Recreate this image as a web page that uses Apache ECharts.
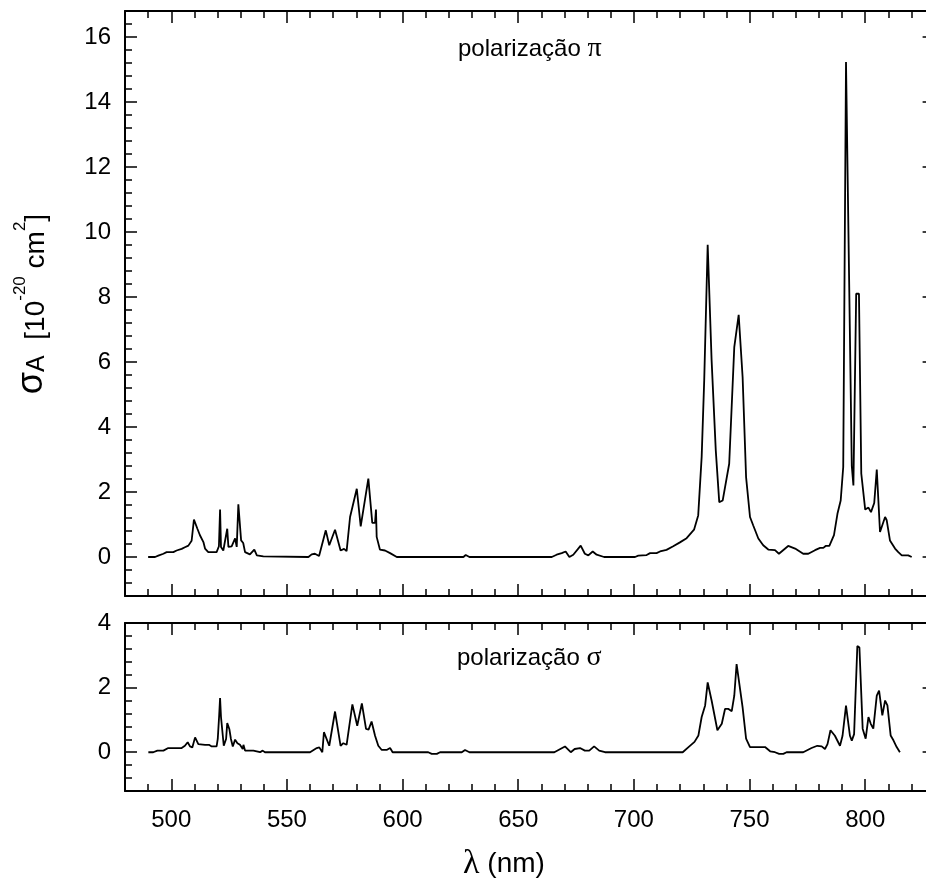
<!DOCTYPE html>
<html>
<head>
<meta charset="utf-8">
<script src="https://cdn.jsdelivr.net/npm/echarts@6/dist/echarts.min.js"></script>
<style>
html,body{margin:0;padding:0;background:#fff;}
#chart{width:926px;height:883px;}
</style>
</head>
<body>
<div id="chart"></div>
<script>
// ---- data ----
const piWavelength = [490,493,494.4,496.6,498,500.9,502.3,504.5,505.9,507.4,508.8,509.8,511.3,512.4,513.9,514.6,516,519.6,520.6,521.1,521.5,522.5,524.2,524.7,526.1,527.6,528.3,529,529.7,530.2,531.1,531.9,534,535.9,537,539.8,540.5,
559.3,560.7,562.1,563.9,566.8,568.3,570.8,573.2,574.7,575.8,577.3,580.2,581.9,585.2,586.9,588.1,588.5,588.8,590.2,592.4,594.6,597.5,
626.3,627.3,628.9,664.5,666.6,668.8,670.5,672.1,673.8,677,678.8,680.3,682.2,683.9,687.1,
700.5,701.9,705.5,707,709.8,711.3,714.1,717,719.9,722.8,726,727.8,729.3,730.4,731.9,733.6,735.4,736.9,738.4,741.2,743.4,745.3,747,748.5,750.2,751.6,753.8,755.9,758.1,761,762.7,766.7,769.7,773.2,775.4,778.3,780.5,781.9,782.9,784.5,786.5,788,789.4,790.5,791.7,794.2,794.9,796.1,797.3,798.3,800,801.4,802.5,803.9,805,806.4,808.6,809.3,810.7,812.9,814.3,815.8,818.6,820.1];
const piValues = [0,0,0.04,0.1,0.15,0.15,0.2,0.25,0.3,0.35,0.5,1.15,0.87,0.67,0.46,0.26,0.15,0.15,0.33,1.46,0.31,0.2,0.87,0.31,0.33,0.57,0.31,1.62,1.58,0.51,0.43,0.15,0.08,0.23,0.05,0.02,0,
0,0.08,0.1,0.03,0.82,0.36,0.84,0.2,0.25,0.18,1.23,2.1,0.94,2.41,1.05,1.05,1.46,0.62,0.23,0.2,0.12,0,
0,0.06,0,0,0.07,0.12,0.17,0,0.07,0.35,0.1,0.05,0.17,0.07,0,
0,0.04,0.06,0.12,0.12,0.17,0.22,0.33,0.45,0.58,0.84,1.28,3.08,5.44,9.61,6.05,3.28,1.69,1.74,2.87,6.46,7.45,5.54,2.46,1.23,0.97,0.57,0.36,0.23,0.21,0.1,0.34,0.26,0.1,0.1,0.21,0.28,0.28,0.34,0.34,0.67,1.33,1.74,2.77,15.23,2.8,2.2,8.1,8.1,2.57,1.46,1.52,1.38,1.66,2.69,0.77,1.23,1.13,0.51,0.26,0.15,0.05,0.05,0];

const sigmaWavelength = [490.1,492.2,494,496.6,498.7,504.5,505.9,507.1,508.1,509.1,510.3,511.7,514.6,515.3,516.3,517.5,519.6,520.1,520.7,521.1,521.5,522.1,522.7,523.7,524.2,525.1,525.8,526.6,527.6,528.6,529.7,530.9,531.2,531.9,535.5,536.3,538.4,539.5,540.5,
560,562.9,564,565.3,566,568.3,570.8,573.2,574.4,575.8,578.3,580.4,581.1,582.4,584.2,585.3,586.6,588.1,589.5,591,593.1,594.6,595.7,
611.1,612.6,614.8,616.2,625.6,627,628.9,665.6,670.2,672.7,674.4,676.7,678.8,680.7,682.8,685,687.5,
721.1,723.6,726.2,727.9,729.3,730.8,731.9,733.6,736.1,738,739.4,740.9,742.3,743.4,744.4,747,748.5,750.2,756.7,758.9,761,762.8,764.6,766,
773.2,776.8,779.3,781.2,782.6,783.7,785,786.9,789.1,790.2,791.7,793.4,794.2,795.2,796.6,797.5,798.9,800.2,801.4,802.4,803.5,805,806,807.4,808.6,809.6,811,812.2,813.6,815];
const sigmaValues = [0,0,0.05,0.05,0.13,0.13,0.2,0.31,0.18,0.15,0.46,0.25,0.23,0.18,0.23,0.18,0.18,0.41,1.13,1.68,1.09,1.11,0.2,0.41,0.9,0.72,0.41,0.18,0.39,0.28,0.23,0.1,0.23,0.05,0.05,0,0,0.05,0,
0,0.13,0.15,0,0.62,0.2,1.26,0.2,0.28,0.23,1.48,0.82,0.8,1.51,0.72,0.7,0.95,0.51,0.2,0.07,0.07,0.13,0,
0,-0.05,-0.05,0,0,0.07,0,0,0.18,0,0.1,0.13,0.05,0.05,0.18,0.05,0,
0,0.16,0.32,0.52,1.09,1.45,2.16,1.6,0.68,0.88,1.34,1.34,1.27,1.75,2.73,1.39,0.42,0.16,0.16,0.03,0,-0.05,-0.05,0,
0,0.13,0.2,0.18,0.1,0.25,0.68,0.51,0.2,0.51,1.44,0.51,0.36,0.56,3.29,3.24,0.73,0.42,1.09,0.88,0.73,1.75,1.91,1.14,1.6,1.45,0.52,0.37,0.16,0];

const xTickLabels = [500,550,600,650,700,750,800];
const piYTickLabels = [0,2,4,6,8,10,12,14,16];
const sigmaYTickLabels = [0,2,4];

// ---- layout / style ----
const FONT = "'Liberation Sans', Arial, sans-serif";
const SERIF = "'Liberation Serif', 'DejaVu Serif', serif";
const X_MIN = 480, X_MAX = 830;
const black = '#000';

function xAxes(gi, pos, labels) {
  return [
    {type:'value', gridIndex:gi, position:pos, min:X_MIN, max:X_MAX, interval:10,
     axisLine:{show:true, onZero:false, lineStyle:{color:black, width:2}},
     axisTick:{show:true, inside:true, length:7, lineStyle:{color:black, width:1.5}},
     axisLabel:{show:false}, splitLine:{show:false}},
    {type:'value', gridIndex:gi, position:pos, min:X_MIN, max:X_MAX,
     axisLine:{show:false, onZero:false},
     axisTick:{show:true, inside:true, length:12, customValues:xTickLabels, lineStyle:{color:black, width:1.5}},
     axisLabel:{show:labels, customValues:xTickLabels, fontSize:24, color:black, fontFamily:FONT, margin:17},
     splitLine:{show:false}}
  ];
}
function yAxes(gi, pos, min, max, majors, labels) {
  return [
    {type:'value', gridIndex:gi, position:pos, min:min, max:max, interval:0.4,
     axisLine:{show:true, onZero:false, lineStyle:{color:black, width:2}},
     axisTick:{show:true, inside:true, length:7, lineStyle:{color:black, width:1.5}},
     axisLabel:{show:false}, splitLine:{show:false}},
    {type:'value', gridIndex:gi, position:pos, min:min, max:max,
     axisLine:{show:false, onZero:false},
     axisTick:{show:true, inside:true, length:12, customValues:majors, lineStyle:{color:black, width:1.5}},
     axisLabel:{show:labels, customValues:majors, fontSize:24, color:black, fontFamily:FONT, margin:14},
     splitLine:{show:false}}
  ];
}

const chart = echarts.init(document.getElementById('chart'), null, {renderer:'canvas'});
const option = {
  animation:false,
  backgroundColor:'#fff',
  grid:[
    {left:125, top:11, width:809.6, height:585, containLabel:false, outerBoundsMode:'none'},
    {left:125, top:623, width:809.6, height:168, containLabel:false, outerBoundsMode:'none'}
  ],
  xAxis:[].concat(
    xAxes(0,'bottom',false), xAxes(0,'top',false),
    xAxes(1,'bottom',true), xAxes(1,'top',false)
  ),
  yAxis:[].concat(
    yAxes(0,'left',-1.2,16.8,piYTickLabels,true), yAxes(0,'right',-1.2,16.8,piYTickLabels,false),
    yAxes(1,'left',-1.2,4,sigmaYTickLabels,true), yAxes(1,'right',-1.2,4,sigmaYTickLabels,false)
  ),
  series:[
    {type:'line', xAxisIndex:0, yAxisIndex:0, showSymbol:false, symbol:'none',
     lineStyle:{color:black, width:1.8}, data: piWavelength.map((w,i)=>[w, piValues[i]])},
    {type:'line', xAxisIndex:4, yAxisIndex:4, showSymbol:false, symbol:'none',
     lineStyle:{color:black, width:1.8}, data: sigmaWavelength.map((w,i)=>[w, sigmaValues[i]])}
  ],
  graphic:[
    {type:'text', x:458, y:49, style:{
      text:'{t|polarização }{g|π}',
      verticalAlign:'middle', align:'left',
      rich:{t:{fontSize:24, fontFamily:FONT, fill:black}, g:{fontSize:28, fontFamily:SERIF, fill:black}}
    }},
    {type:'text', x:457, y:658, style:{
      text:'{t|polarização }{g|σ}',
      verticalAlign:'middle', align:'left',
      rich:{t:{fontSize:24, fontFamily:FONT, fill:black}, g:{fontSize:28, fontFamily:SERIF, fill:black}}
    }},
    {type:'text', x:504, y:864, style:{
      text:'{g|λ}{t| (nm)}',
      verticalAlign:'middle', align:'center',
      rich:{t:{fontSize:28, fontFamily:FONT, fill:black}, g:{fontSize:34, fontFamily:SERIF, fill:black}}
    }},
    {type:'text', x:31, y:304, rotation:Math.PI/2, style:{
      text:'{s|σ}{sub|A}{t|  [10}{sup|-20}{t| cm}{sup|2}{t|]}',
      verticalAlign:'middle', align:'center',
      rich:{
        s:{fontSize:36, fontFamily:FONT, fill:black, lineHeight:38, verticalAlign:'bottom'},
        sub:{fontSize:25, fontFamily:FONT, fill:black, lineHeight:24, verticalAlign:'bottom'},
        t:{fontSize:28, fontFamily:FONT, fill:black, lineHeight:38, verticalAlign:'bottom'},
        sup:{fontSize:17, fontFamily:FONT, fill:black, lineHeight:22, verticalAlign:'top'}
      }
    }}
  ]
};
chart.setOption(option);
</script>
</body>
</html>
